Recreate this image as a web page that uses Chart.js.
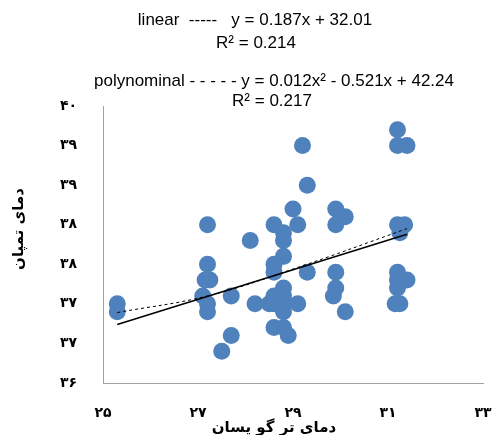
<!DOCTYPE html>
<html>
<head>
<meta charset="utf-8">
<script src="https://cdn.jsdelivr.net/npm/chart.js@4"></script>
<style>
  html, body { margin: 0; padding: 0; background: #fff; }
  #wrap { width: 494px; height: 435px; position: relative; }
</style>
</head>
<body>
<div id="wrap"><canvas id="scatterChart"></canvas></div>
<script>
// data
var earTemp = [25.3, 25.3, 27.2, 27.2, 27.15, 27.25, 27.1, 27.2, 27.2, 27.7, 27.7, 27.5,
    28.1, 28.2, 28.5, 28.6, 28.8, 28.8, 28.8, 28.6, 28.6, 28.8, 28.6, 28.8, 28.8, 28.6, 28.8, 28.6, 28.8, 28.9,
    29.2, 29.3, 29.0, 29.1, 29.3, 29.1,
    29.9, 30.1, 29.9, 29.9, 29.9, 29.85, 30.1,
    31.2, 31.2, 31.4, 31.2, 31.35, 31.25, 31.2, 31.2, 31.4, 31.2, 31.15, 31.25];
var tympTemp = [37.0, 36.9, 38.0, 37.5, 37.3, 37.3, 37.1, 37.0, 36.9, 37.1, 36.6, 36.4,
    37.8, 37.0, 37.0, 38.0, 37.9, 37.8, 37.6, 37.5, 37.4, 37.2, 37.1, 37.1, 37.0, 37.0, 36.9, 36.7, 36.7, 36.6,
    39.0, 38.5, 38.2, 38.0, 37.4, 37.0,
    38.2, 38.1, 38.0, 37.4, 37.2, 37.1, 36.9,
    39.2, 39.0, 39.0, 38.0, 38.0, 37.9, 37.4, 37.3, 37.3, 37.2, 37.0, 37.0];

var linearX = [25.3, 31.4];
var linearY = [36.74, 37.88];
var polyX = [25.3, 27.2, 29.0, 31.4];
var polyY = [36.89, 37.10, 37.44, 37.95];

var xTicks = [25, 27, 29, 31, 33];
var xTickLabels = ['۲۵', '۲۷', '۲۹', '۳۱', '۳۳'];
var yTicks = [36, 36.5, 37, 37.5, 38, 38.5, 39, 39.5];
var yTickLabels = ['۳۶', '۳۷', '۳۷', '۳۸', '۳۸', '۳۹', '۳۹', '۴۰'];

var xTitle = 'دمای تر گو یسان';
var yTitle = 'دمای تمپان';

var headerLines = [
    { text: 'linear  -----   y = 0.187x + 32.01', x: 255, y: 20 },
    { text: 'R² = 0.214', x: 256, y: 43 },
    { text: 'polynominal - - - - - y = 0.012x² - 0.521x + 42.24', x: 274, y: 81 },
    { text: 'R² = 0.217', x: 272, y: 101 }
];

function toPoints(xs, ys) {
    return xs.map(function(x, i) { return { x: x, y: ys[i] }; });
}

// header text and axis titles drawn by hand so they can sit off-centre like the original
var textPlugin = {
    id: 'extraText',
    afterDraw: function(chart) {
        var ctx = chart.ctx;
        ctx.save();
        ctx.fillStyle = '#000';
        ctx.font = '17px "Liberation Sans", Arial, sans-serif';
        ctx.textAlign = 'center';
        ctx.textBaseline = 'middle';
        headerLines.forEach(function(line) {
            ctx.fillText(line.text, line.x, line.y);
        });

        ctx.font = 'bold 15px "DejaVu Sans"';
        ctx.fillText(xTitle, 274, 428);

        ctx.translate(19, 229);
        ctx.rotate(-Math.PI / 2);
        ctx.font = 'bold 15px "DejaVu Sans"';
        ctx.fillText(yTitle, 0, 0);
        ctx.restore();
    }
};

var ctx = document.getElementById('scatterChart').getContext('2d');
var chart = new Chart(ctx, {
    type: 'scatter',
    data: {
        datasets: [
            {
                label: 'linear',
                type: 'line',
                data: toPoints(linearX, linearY),
                borderColor: '#000',
                borderWidth: 1.5,
                pointRadius: 0,
                fill: false,
                order: 0
            },
            {
                label: 'polynominal',
                type: 'line',
                data: toPoints(polyX, polyY),
                borderColor: '#000',
                borderWidth: 1,
                borderDash: [3, 3],
                pointRadius: 0,
                tension: 0.4,
                fill: false,
                order: 1
            },
            {
                label: 'data',
                data: toPoints(earTemp, tympTemp),
                backgroundColor: '#4f81bd',
                borderWidth: 0,
                pointRadius: 8.5,
                order: 2
            }
        ]
    },
    options: {
        responsive: true,
        maintainAspectRatio: false,
        animation: false,
        events: [],
        layout: { padding: { top: 106, right: 0, left: 0, bottom: 0 } },
        plugins: {
            legend: { display: false },
            tooltip: { enabled: false }
        },
        scales: {
            x: {
                type: 'linear',
                min: 25,
                max: 33,
                afterBuildTicks: function(scale) {
                    scale.ticks = xTicks.map(function(v) { return { value: v }; });
                },
                afterFit: function(scale) {
                    scale.height = 52;
                    scale.paddingLeft = 0;
                    scale.paddingRight = 11;
                },
                grid: { display: false, drawOnChartArea: false, drawTicks: true, tickLength: 6, color: '#a0a0a0' },
                border: { color: '#a0a0a0', width: 1 },
                ticks: {
                    padding: 16,
                    color: '#000',
                    font: { family: '"DejaVu Sans"', size: 14, weight: 'bold' },
                    callback: function(value, index) { return xTickLabels[index]; }
                }
            },
            y: {
                type: 'linear',
                min: 36,
                max: 39.5,
                afterBuildTicks: function(scale) {
                    scale.ticks = yTicks.map(function(v) { return { value: v }; });
                },
                afterFit: function(scale) { scale.width = 103; },
                grid: { display: false, drawOnChartArea: false, drawTicks: true, tickLength: 6, color: '#a0a0a0' },
                border: { color: '#a0a0a0', width: 1 },
                ticks: {
                    padding: 20,
                    color: '#000',
                    font: { family: '"DejaVu Sans"', size: 14, weight: 'bold' },
                    callback: function(value, index) { return yTickLabels[index]; }
                }
            }
        }
    },
    plugins: [textPlugin]
});
</script>
</body>
</html>
